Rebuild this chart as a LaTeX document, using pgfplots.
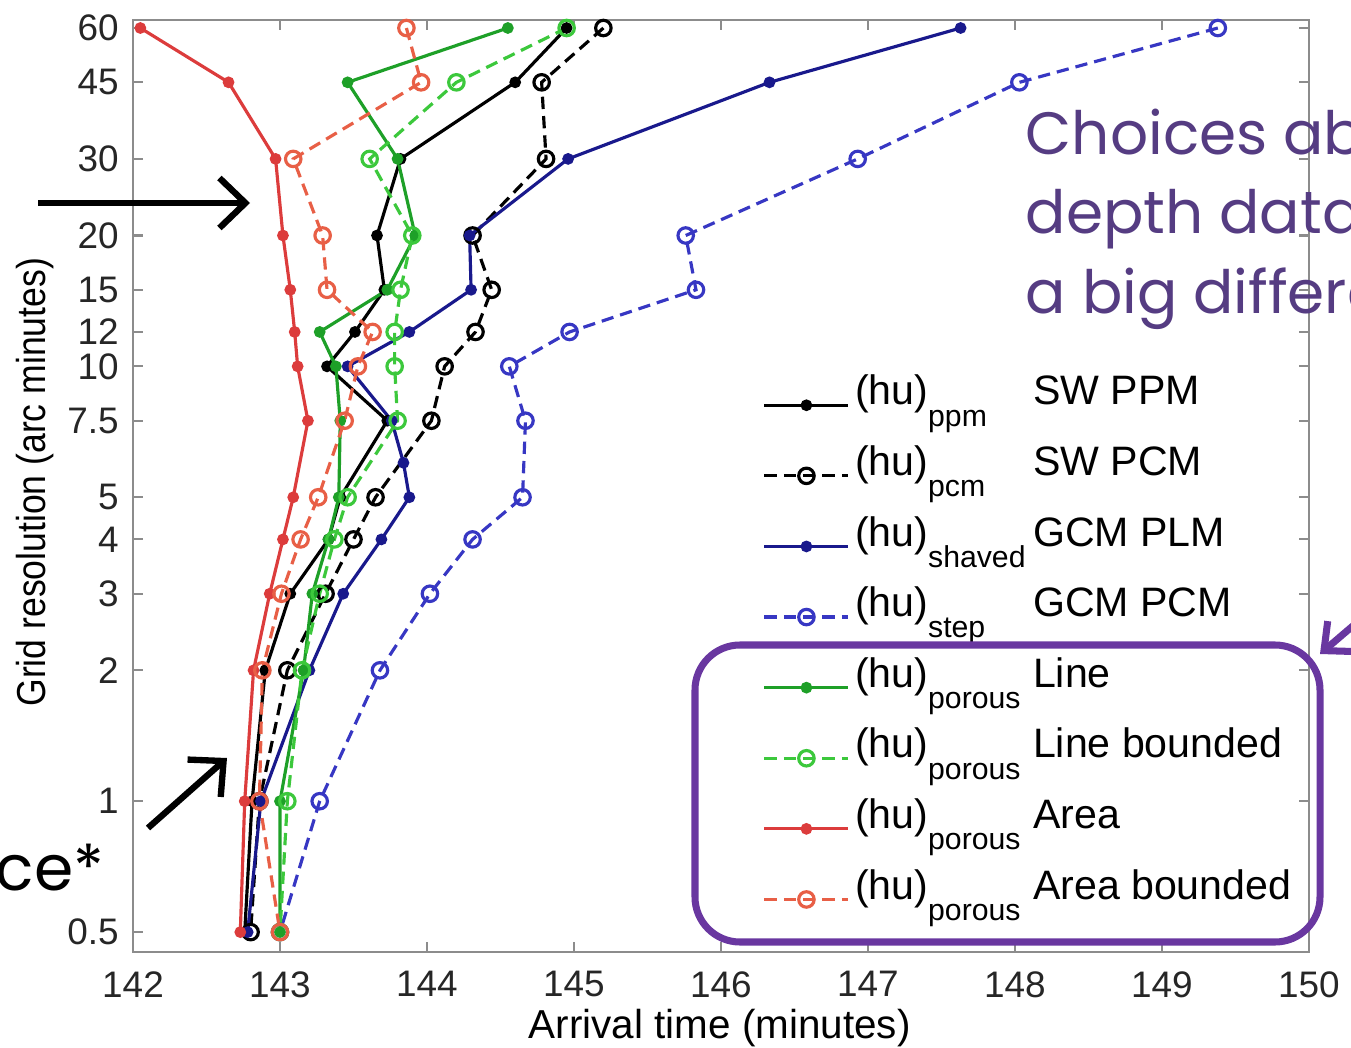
\documentclass[border=0pt]{standalone}
\usepackage{pgfplots}
\pgfplotsset{compat=1.18}
\usepackage{fontspec}
\setmainfont{Liberation Sans}
\newfontfamily\comic{Poppins}
\usetikzlibrary{arrows.meta}
\definecolor{axgray}{RGB}{140,140,140}
\definecolor{mblue}{RGB}{25,25,140}
\definecolor{mblue2}{RGB}{55,55,195}
\definecolor{mgreen}{RGB}{30,160,40}
\definecolor{mgreen2}{RGB}{60,200,60}
\definecolor{mred}{RGB}{220,60,60}
\definecolor{mred2}{RGB}{232,95,70}
\definecolor{purp}{RGB}{105,55,160}
\definecolor{textpurp}{RGB}{85,60,130}
\newcommand{\hu}[2]{\makebox[1.78cm][l]{(hu)\raisebox{-6pt}{\fontsize{8.6}{9}\selectfont #1}}#2}
\begin{document}
\begin{tikzpicture}
\useasboundingbox (0,0) rectangle (13.51,10.47);
\clip (0,0) rectangle (13.51,10.47);
\begin{axis}[
  at={(1.33cm,0.95cm)}, anchor=south west,
  scale only axis, width=11.76cm, height=9.32cm,
  xmin=142, xmax=150, ymin=0.45, ymax=62.6,
  ymode=log,
  xtick={142,143,144,145,146,147,148,149,150},
  xticklabels={142,143,144,145,146,147,148,149,150},
  ytick={0.5,1,2,3,4,5,7.5,10,12,15,20,30,45,60},
  yticklabels={0.5,1,2,3,4,5,7.5,10,12,15,20,30,45,60},
  minor tick num=0, yminorticks=false,
  tick align=inside, tick pos=both,
  major tick length=0.1cm,
  tick style={axgray, line width=0.6pt},
  axis line style={axgray, line width=0.8pt},
  /pgf/number format/assume math mode=true,
  ticklabel style={font=\fontsize{10.5}{12}\selectfont, text=black!85},
  xticklabel style={yshift=-0.07cm},
  yticklabel style={xshift=-0.02cm},
  xlabel={Arrival time (minutes)},
  ylabel={\scalebox{0.88}[1]{Grid resolution (arc minutes)}},
  label style={font=\fontsize{11.5}{13}\selectfont},
  xlabel style={at={(axis description cs:0.499,-0.0815)}, anchor=center},
  ylabel style={at={(axis description cs:-0.083,0.504)}, anchor=center},
  legend image code/.code={\draw[mark repeat=2,mark phase=2,#1] plot coordinates {(0cm,-0.1cm) (0.42cm,-0.1cm) (0.84cm,-0.1cm)};},
  legend cell align=left,
  legend style={draw=none, fill=none, inner sep=0pt, at={(axis description cs:0.535,0.636)}, anchor=north west,
    font=\fontsize{11.7}{13}\selectfont, row sep=0pt, column sep=0.05cm,
    nodes={inner sep=0pt, text height=0.45cm, text depth=0.256cm}},
  every axis plot/.append style={line width=0.9pt},
]
\addplot[black, mark=*, mark size=1.2pt] coordinates {
(144.95,60) (144.60,45) (143.82,30) (143.66,20) (143.71,15) (143.51,12) (143.32,10) (143.73,7.5) (143.41,5) (143.33,4) (143.07,3) (142.90,2) (142.81,1) (142.76,0.5)};
\addlegendentry{\hu{ppm}{SW PPM}}
\addplot[black, dashed, dash pattern=on 3.5pt off 2pt, mark=o, mark size=2.2pt, mark options={solid}] coordinates {
(145.2,60) (144.78,45) (144.81,30) (144.31,20) (144.44,15) (144.33,12) (144.12,10) (144.03,7.5) (143.65,5) (143.50,4) (143.31,3) (143.05,2) (142.86,1) (142.80,0.5)};
\addlegendentry{\hu{pcm}{SW PCM}}
\addplot[mblue, mark=*, mark size=1.2pt] coordinates {
(147.63,60) (146.33,45) (144.96,30) (144.29,20) (144.30,15) (143.88,12) (143.46,10) (143.76,7.5) (143.84,6) (143.88,5) (143.69,4) (143.43,3) (143.20,2) (142.87,1) (142.78,0.5)};
\addlegendentry{\hu{shaved}{GCM PLM}}
\addplot[mblue2, dashed, dash pattern=on 3.5pt off 2pt, mark=o, mark size=2.2pt, mark options={solid}] coordinates {
(149.38,60) (148.03,45) (146.93,30) (145.76,20) (145.83,15) (144.97,12) (144.56,10) (144.67,7.5) (144.65,5) (144.31,4) (144.02,3) (143.68,2) (143.27,1) (143.00,0.5)};
\addlegendentry{\hu{step}{GCM PCM}}
\addplot[mgreen, mark=*, mark size=1.2pt] coordinates {
(144.55,60) (143.46,45) (143.80,30) (143.92,20) (143.73,15) (143.27,12) (143.38,10) (143.41,7.5) (143.40,5) (143.33,4) (143.22,3) (143.16,2) (143.00,1) (143.00,0.5)};
\addlegendentry{\hu{porous}{Line}}
\addplot[mgreen2, dashed, dash pattern=on 3.5pt off 2pt, mark=o, mark size=2.2pt, mark options={solid}] coordinates {
(144.95,60) (144.20,45) (143.61,30) (143.90,20) (143.82,15) (143.78,12) (143.78,10) (143.80,7.5) (143.46,5) (143.37,4) (143.27,3) (143.15,2) (143.05,1) (143.00,0.5)};
\addlegendentry{\hu{porous}{Line bounded}}
\addplot[mred, mark=*, mark size=1.2pt] coordinates {
(142.05,60) (142.65,45) (142.97,30) (143.02,20) (143.07,15) (143.10,12) (143.12,10) (143.19,7.5) (143.09,5) (143.02,4) (142.93,3) (142.82,2) (142.76,1) (142.73,0.5)};
\addlegendentry{\hu{porous}{Area}}
\addplot[mred2, dashed, dash pattern=on 3.5pt off 2pt, mark=o, mark size=2.2pt, mark options={solid}] coordinates {
(143.86,60) (143.96,45) (143.09,30) (143.29,20) (143.32,15) (143.63,12) (143.53,10) (143.44,7.5) (143.26,5) (143.14,4) (143.01,3) (142.88,2) (142.86,1) (143.00,0.5)};
\addlegendentry{\hu{porous}{Area bounded}}
\end{axis}
% annotations
\draw[purp, line width=2pt, rounded corners=0.45cm] (6.95,1.05) rectangle (13.2,4.02);
\draw[purp, line width=2pt, -{Straight Barb[length=0.22cm,width=0.4cm]}] (13.75,4.4) -- (13.2,3.93);
\draw[black, line width=1.8pt, -{Straight Barb[length=0.26cm,width=0.5cm]}] (0.38,8.44) -- (2.5,8.44);
\draw[black, line width=1.8pt, -{Straight Barb[length=0.26cm,width=0.5cm]}] (1.48,2.19) -- (2.27,2.89);
\node[anchor=base west, align=left, text=textpurp, font=\comic\fontsize{17}{22.5}\selectfont, inner sep=0pt] at (10.25,7.34) {Choices about\\depth data make\\a big difference};
\node[anchor=base east, text=black, font=\comic\fontsize{18}{21}\selectfont, inner sep=0pt] at (1.05,1.57) {ce*};
\end{tikzpicture}
\end{document}
